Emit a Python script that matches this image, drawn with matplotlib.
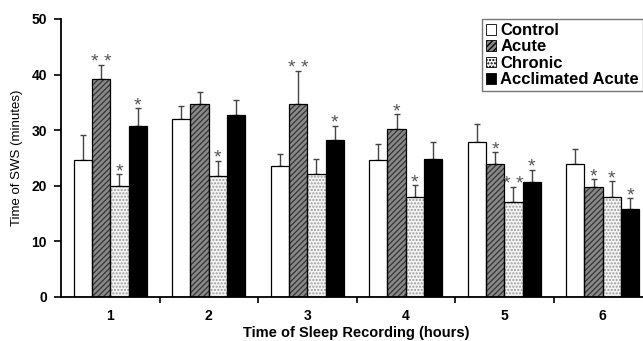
import matplotlib.pyplot as plt
import numpy as np

plt.rcParams['font.family'] = ['Liberation Sans', 'DejaVu Sans']

hours = [1, 2, 3, 4, 5, 6]
groups = ['Control', 'Acute', 'Chronic', 'Acclimated Acute']

# mean time of SWS (minutes) and SEM for each group, hours 1-6
control = [24.6, 32.1, 23.6, 24.6, 27.8, 24.0]
acute = [39.2, 34.7, 34.8, 30.2, 24.0, 19.7]
chronic = [20.0, 21.8, 22.1, 18.0, 17.0, 18.0]
acclimated = [30.8, 32.7, 28.2, 24.8, 20.6, 15.8]

control_err = [4.5, 2.2, 2.2, 2.9, 3.3, 2.7]
acute_err = [2.6, 2.2, 5.8, 2.7, 2.1, 1.5]
chronic_err = [2.1, 2.7, 2.8, 2.1, 2.8, 2.8]
acclimated_err = [3.2, 2.7, 2.6, 3.1, 2.3, 2.0]

# significance markers
control_sig = ['', '', '', '', '', '']
acute_sig = ['**', '', '**', '*', '*', '*']
chronic_sig = ['*', '*', '', '*', '**', '*']
acclimated_sig = ['*', '', '*', '', '*', '*']

means = [control, acute, chronic, acclimated]
errs = [control_err, acute_err, chronic_err, acclimated_err]
sigs = [control_sig, acute_sig, chronic_sig, acclimated_sig]

styles = [
    dict(facecolor='white', hatch=None, hatch_color='black'),
    dict(facecolor='#8a8a8a', hatch='//////', hatch_color='#3a3a3a'),
    dict(facecolor='#f4f4f4', hatch='.....', hatch_color='#9a9a9a'),
    dict(facecolor='black', hatch=None, hatch_color='black'),
]

fig = plt.figure(figsize=(6.43, 3.41), dpi=100)
ax = fig.add_axes([61 / 643, 44 / 341, 591 / 643, 278 / 341])

x = np.array(hours, dtype=float)
w = 0.186
handles = []
for i, (m, e, s, st) in enumerate(zip(means, errs, sigs, styles)):
    pos = x + (i - 1.5) * w
    # fill with hatch drawn in its own colour, then a black outline on top
    ax.bar(pos, m, w, color=st['facecolor'], edgecolor=st['hatch_color'],
           hatch=st['hatch'], linewidth=0, zorder=2)
    ax.bar(pos, m, w, facecolor='none', edgecolor='black', linewidth=0.9, zorder=3)
    ax.errorbar(pos, m, yerr=[np.zeros(len(e)), e], fmt='none', ecolor='#444444',
                elinewidth=1.0, capsize=2.5, capthick=1.0, zorder=1)
    for p, v, err, mark in zip(pos, m, e, s):
        if mark:
            ax.text(p, v + err - 1.1, ' '.join(mark), ha='center', va='bottom',
                    fontsize=14, color='#555555')
    handles.append(plt.Rectangle((0, 0), 1, 1, facecolor=st['facecolor'],
                                 edgecolor='black', hatch=st['hatch'], linewidth=0.6))

ax.set_xlim(0.5, 6.5)
ax.set_ylim(0, 50)
ax.set_yticks([0, 10, 20, 30, 40, 50])
ax.set_xticks(hours)
ax.set_xticks([1.5, 2.5, 3.5, 4.5, 5.5], minor=True)
ax.tick_params(axis='x', which='major', length=0, pad=9, labelsize=10)
ax.tick_params(axis='x', which='minor', length=4, width=1.2, direction='out')
ax.tick_params(axis='y', length=5, width=1.2, labelsize=10, pad=5)
for lab in ax.get_xticklabels() + ax.get_yticklabels():
    lab.set_fontweight('bold')

for side in ['top', 'right']:
    ax.spines[side].set_visible(False)
for side in ['left', 'bottom']:
    ax.spines[side].set_linewidth(1.3)

ax.set_ylabel('Time of SWS (minutes)', fontsize=9.5, labelpad=6)
ax.set_xlabel('Time of Sleep Recording (hours)', fontsize=10.5, fontweight='bold',
              labelpad=2)

leg = ax.legend(handles, groups, loc='upper left', bbox_to_anchor=(0.712, 1.0),
                frameon=True, fancybox=False, edgecolor='#555555',
                prop=dict(size=12, weight='bold'), handlelength=0.6,
                handleheight=0.6, handletextpad=0.25, labelspacing=0.08,
                borderpad=0.25, borderaxespad=0)
leg.get_frame().set_linewidth(1.0)

fig.savefig('out.png', dpi=100, facecolor='white')
